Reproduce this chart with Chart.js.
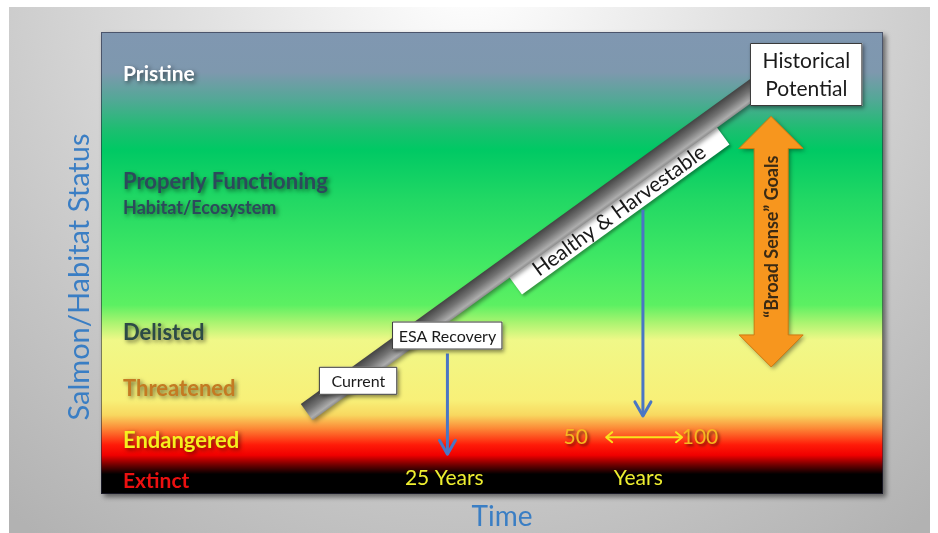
<!DOCTYPE html>
<html>
<head>
<meta charset="utf-8">
<script src="https://cdn.jsdelivr.net/npm/chart.js@4"></script>
<style>
    body { margin: 0; background: #fff; }
    #wrap { width: 938px; height: 533px; }
</style>
</head>
<body>
<div id="wrap"><canvas id="chart" width="938" height="533"></canvas></div>
<script>
// Status levels (y axis, 0 = extinct, 100 = pristine)
const statusLabels = ['Pristine', 'Properly Functioning', 'Delisted', 'Threatened', 'Endangered', 'Extinct'];
const statusY = [90.9, 67.5, 34.8, 22.7, 11.5, 2.8];
const statusSub = 'Habitat/Ecosystem';
const statusSubY = 61.9;

// Trend from current state up to historical potential
const trendX = [26.3, 84.3];
const trendY = [17.7, 88.7];

// Milestones along the trend
const milestoneNames = ['Current', 'ESA Recovery', 'Healthy & Harvestable', 'Historical Potential'];
const milestoneX = [32.9, 44.3, 66.2, 90.2];
const milestoneY = [24.5, 34.3, 61.5, 90.8];

// Drop arrows from milestones down to the time line
const esaArrowX = [44.3, 44.3];
const esaArrowY = [30.4, 8.6];
const healthyArrowX = [69.3, 69.3];
const healthyArrowY = [61.5, 16.9];

// Time tick labels
const timeLabels = ['25 Years', 'Years'];
const timeX = [43.9, 68.7];
const timeY = 3.5;
const rangeLabels = ['50', '100'];
const rangeX = [60.7, 76.6];
const rangeY = 12.3;
const rangeArrowX = [64.6, 74.3];

// "Broad Sense" goals span
const goalsX = 85.7;
const goalsY = [27.5, 81.7];
const goalsLabel = '\u201CBroad Sense\u201D Goals';

const FONT = 'Lato, "Open Sans", sans-serif';

function pt(chart, x, y) {
    return { x: chart.scales.x.getPixelForValue(x), y: chart.scales.y.getPixelForValue(y) };
}

function shadowText(ctx, text, x, y, font, color, blur) {
    ctx.save();
    ctx.font = font;
    ctx.fillStyle = color;
    ctx.shadowColor = 'rgba(0,0,0,0.55)';
    ctx.shadowBlur = blur;
    ctx.shadowOffsetX = 2;
    ctx.shadowOffsetY = 2;
    ctx.fillText(text, x, y);
    ctx.restore();
}

function box(ctx, x, y, w, h) {
    ctx.save();
    ctx.shadowColor = 'rgba(0,0,0,0.45)';
    ctx.shadowBlur = 4;
    ctx.shadowOffsetX = 2;
    ctx.shadowOffsetY = 2;
    ctx.fillStyle = '#fff';
    ctx.fillRect(x, y, w, h);
    ctx.restore();
    ctx.strokeStyle = '#3a3a3a';
    ctx.lineWidth = 1;
    ctx.strokeRect(x + 0.5, y + 0.5, w - 1, h - 1);
}

function arrowHead(ctx, from, to, len, half) {
    const a = Math.atan2(to.y - from.y, to.x - from.x);
    ctx.beginPath();
    ctx.moveTo(to.x - len * Math.cos(a) + half * Math.sin(a), to.y - len * Math.sin(a) - half * Math.cos(a));
    ctx.lineTo(to.x, to.y);
    ctx.lineTo(to.x - len * Math.cos(a) - half * Math.sin(a), to.y - len * Math.sin(a) + half * Math.cos(a));
    ctx.stroke();
}

const diagramPlugin = {
    id: 'diagram',
    beforeDraw(chart) {
        const ctx = chart.ctx;
        const a = chart.chartArea;
        // slide background
        ctx.save();
        ctx.fillStyle = '#fff';
        ctx.fillRect(0, 0, chart.width, chart.height);
        const bg = ctx.createRadialGradient(470, -40, 20, 470, -40, 720);
        bg.addColorStop(0, '#ffffff');
        bg.addColorStop(0.35, '#e2e2e2');
        bg.addColorStop(0.75, '#c4c4c4');
        bg.addColorStop(1, '#b2b2b2');
        ctx.fillStyle = bg;
        ctx.fillRect(9, 7, 921, chart.height - 7);

        // status gradient panel
        const g = ctx.createLinearGradient(0, a.top, 0, a.bottom);
        const stops = [
            [0, '#8097b1'], [0.087, '#7e98ae'], [0.147, '#52a896'], [0.212, '#1cbe70'],
            [0.255, '#00c964'], [0.364, '#22d864'], [0.494, '#40e864'], [0.591, '#5cf062'],
            [0.628, '#a8f470'], [0.667, '#f0f888'], [0.797, '#f8f078'], [0.829, '#f8d860'],
            [0.857, '#fc8c38'], [0.894, '#ff1a08'], [0.916, '#f00000'], [0.937, '#700000'],
            [0.957, '#000000'], [1, '#000000']
        ];
        stops.forEach(s => g.addColorStop(s[0], s[1]));
        ctx.shadowColor = 'rgba(0,0,0,0.5)';
        ctx.shadowBlur = 5;
        ctx.shadowOffsetX = 3;
        ctx.shadowOffsetY = 3;
        ctx.fillStyle = g;
        ctx.fillRect(a.left, a.top, a.right - a.left, a.bottom - a.top);
        ctx.shadowColor = 'transparent';
        ctx.strokeStyle = 'rgba(40,40,60,0.6)';
        ctx.lineWidth = 1;
        ctx.strokeRect(a.left + 0.5, a.top + 0.5, a.right - a.left - 1, a.bottom - a.top - 1);

        // axis titles
        ctx.fillStyle = '#3a7ec4';
        ctx.textAlign = 'center';
        ctx.textBaseline = 'middle';
        ctx.font = '28px ' + FONT;
        ctx.fillText('Time', (a.left + a.right) / 2 + 10, 517);
        ctx.translate(80, 277);
        ctx.rotate(-Math.PI / 2);
        ctx.font = '29px ' + FONT;
        ctx.fillText('Salmon/Habitat Status', 0, 0);
        ctx.restore();

        // healthy & harvestable label sits just under the trend bar
        const p0 = pt(chart, trendX[0], trendY[0]);
        const p1 = pt(chart, trendX[1], trendY[1]);
        const ang = Math.atan2(p1.y - p0.y, p1.x - p0.x);
        const c = pt(chart, milestoneX[2], milestoneY[2]);
        ctx.save();
        ctx.translate(c.x, c.y);
        ctx.rotate(ang);
        ctx.shadowColor = 'rgba(0,0,0,0.35)';
        ctx.shadowBlur = 3;
        ctx.shadowOffsetX = 2;
        ctx.shadowOffsetY = 2;
        ctx.fillStyle = '#fff';
        ctx.fillRect(-128, -12, 256, 24);
        ctx.shadowColor = 'transparent';
        ctx.fillStyle = '#1a1a1a';
        ctx.font = '21px ' + FONT;
        ctx.textAlign = 'center';
        ctx.textBaseline = 'middle';
        ctx.fillText(milestoneNames[2], 0, 1);
        ctx.restore();
    },
    beforeDatasetDraw(chart, args) {
        if (args.index === 0) {
            const ctx = chart.ctx;
            ctx.save();
            ctx.shadowColor = 'rgba(0,0,0,0.4)';
            ctx.shadowBlur = 4;
            ctx.shadowOffsetX = 2;
            ctx.shadowOffsetY = 2;
        }
    },
    afterDatasetDraw(chart, args) {
        if (args.index === 0) chart.ctx.restore();
    },
    afterDatasetsDraw(chart) {
        const ctx = chart.ctx;
        const a = chart.chartArea;
        ctx.save();
        ctx.textBaseline = 'middle';

        // status labels
        const lx = a.left + 22;
        const styles = [
            ['bold 21px', '#ffffff'], ['bold 22px', '#2d4a5c'], ['bold 22px', '#2c4a46'],
            ['bold 22px', '#c47a22'], ['bold 22px', '#f6f01e'], ['bold 21px', '#ec1010']
        ];
        statusLabels.forEach((t, i) => {
            const y = chart.scales.y.getPixelForValue(statusY[i]);
            shadowText(ctx, t, lx, y, styles[i][0] + ' ' + FONT, styles[i][1], 4);
        });
        shadowText(ctx, statusSub, lx, chart.scales.y.getPixelForValue(statusSubY), 'bold 18px ' + FONT, '#2d4a5c', 4);

        // time labels
        ctx.textAlign = 'center';
        timeLabels.forEach((t, i) => {
            const p = pt(chart, timeX[i], timeY);
            ctx.font = '21px ' + FONT;
            ctx.fillStyle = '#eeee30';
            ctx.fillText(t, p.x, p.y);
        });
        rangeLabels.forEach((t, i) => {
            const p = pt(chart, rangeX[i], rangeY);
            shadowText(ctx, t, p.x, p.y, '21px ' + FONT, '#f6b820', 3);
        });

        // arrowheads
        ctx.lineCap = 'round';
        ctx.lineJoin = 'round';
        ctx.strokeStyle = '#4a76c4';
        ctx.lineWidth = 3;
        [1, 2].forEach(i => {
            const pts = chart.getDatasetMeta(i).data;
            arrowHead(ctx, pts[0], pts[1], 14, 8);
        });
        ctx.strokeStyle = '#f8e41c';
        ctx.lineWidth = 2;
        const rp = chart.getDatasetMeta(3).data;
        arrowHead(ctx, rp[0], rp[1], 6, 5);
        arrowHead(ctx, rp[1], rp[0], 6, 5);

        // broad sense goals double arrow
        const gp = chart.getDatasetMeta(4).data;
        const gx = gp[0].x, gBot = gp[0].y, gTop = gp[1].y;
        const sh = 17, hh = 32, hl = 32;
        ctx.beginPath();
        ctx.moveTo(gx, gTop);
        ctx.lineTo(gx + hh, gTop + hl);
        ctx.lineTo(gx + sh, gTop + hl);
        ctx.lineTo(gx + sh, gBot - hl);
        ctx.lineTo(gx + hh, gBot - hl);
        ctx.lineTo(gx, gBot);
        ctx.lineTo(gx - hh, gBot - hl);
        ctx.lineTo(gx - sh, gBot - hl);
        ctx.lineTo(gx - sh, gTop + hl);
        ctx.lineTo(gx - hh, gTop + hl);
        ctx.closePath();
        ctx.save();
        ctx.shadowColor = 'rgba(0,0,0,0.4)';
        ctx.shadowBlur = 4;
        ctx.shadowOffsetX = 2;
        ctx.shadowOffsetY = 2;
        ctx.fillStyle = '#f7961e';
        ctx.fill();
        ctx.restore();
        ctx.strokeStyle = '#d07a10';
        ctx.lineWidth = 1;
        ctx.stroke();
        ctx.save();
        ctx.translate(gx, (gTop + gBot) / 2 - 5);
        ctx.rotate(-Math.PI / 2);
        ctx.fillStyle = '#3a2a14';
        ctx.font = 'bold 18px ' + FONT;
        ctx.fillText(goalsLabel, 0, 1);
        ctx.restore();

        // milestone boxes
        const boxes = [[78, 28], [110, 28], null, [112, 63]];
        boxes.forEach((b, i) => {
            if (!b) return;
            const p = pt(chart, milestoneX[i], milestoneY[i]);
            box(ctx, p.x - b[0] / 2, p.y - b[1] / 2, b[0], b[1]);
            ctx.fillStyle = '#1a1a1a';
            if (i === 3) {
                ctx.font = '21px ' + FONT;
                ctx.fillText('Historical', p.x, p.y - 13);
                ctx.fillText('Potential', p.x, p.y + 15);
            } else {
                ctx.font = '16px ' + FONT;
                ctx.fillText(milestoneNames[i], p.x, p.y + 1);
            }
        });
        ctx.restore();
    }
};

const line = (xs, ys) => xs.map((x, i) => ({ x: x, y: ys[i] }));

new Chart(document.getElementById('chart'), {
    type: 'scatter',
    data: {
        datasets: [
            {
                label: 'Trend',
                data: line(trendX, trendY),
                showLine: true,
                borderWidth: 20,
                borderCapStyle: 'butt',
                pointRadius: 0,
                borderColor: (c) => {
                    const ch = c.chart;
                    if (!ch.chartArea) return '#777';
                    const p0 = pt(ch, trendX[0], trendY[0]);
                    const p1 = pt(ch, trendX[1], trendY[1]);
                    const ang = Math.atan2(p1.y - p0.y, p1.x - p0.x);
                    const nx = -Math.sin(ang) * 10, ny = Math.cos(ang) * 10;
                    const mx = (p0.x + p1.x) / 2, my = (p0.y + p1.y) / 2;
                    const g = ch.ctx.createLinearGradient(mx - nx, my - ny, mx + nx, my + ny);
                    g.addColorStop(0, '#444444');
                    g.addColorStop(0.45, '#737373');
                    g.addColorStop(0.85, '#adadad');
                    g.addColorStop(1, '#8c8c8c');
                    return g;
                }
            },
            { label: 'ESA', data: line(esaArrowX, esaArrowY), showLine: true, borderColor: '#4a76c4', borderWidth: 3, pointRadius: 0 },
            { label: 'Healthy', data: line(healthyArrowX, healthyArrowY), showLine: true, borderColor: '#4a76c4', borderWidth: 3, pointRadius: 0 },
            { label: 'Range', data: line(rangeArrowX, [rangeY, rangeY]), showLine: true, borderColor: '#f8e41c', borderWidth: 2, pointRadius: 0 },
            { label: 'Goals', data: line([goalsX, goalsX], goalsY), showLine: false, pointRadius: 0 }
        ]
    },
    options: {
        responsive: false,
        animation: false,
        layout: { padding: { left: 101, top: 32, right: 55, bottom: 39 } },
        plugins: { legend: { display: false }, tooltip: { enabled: false } },
        scales: {
            x: { type: 'linear', min: 0, max: 100, display: false },
            y: { type: 'linear', min: 0, max: 100, display: false }
        }
    },
    plugins: [diagramPlugin]
});
</script>
</body>
</html>
